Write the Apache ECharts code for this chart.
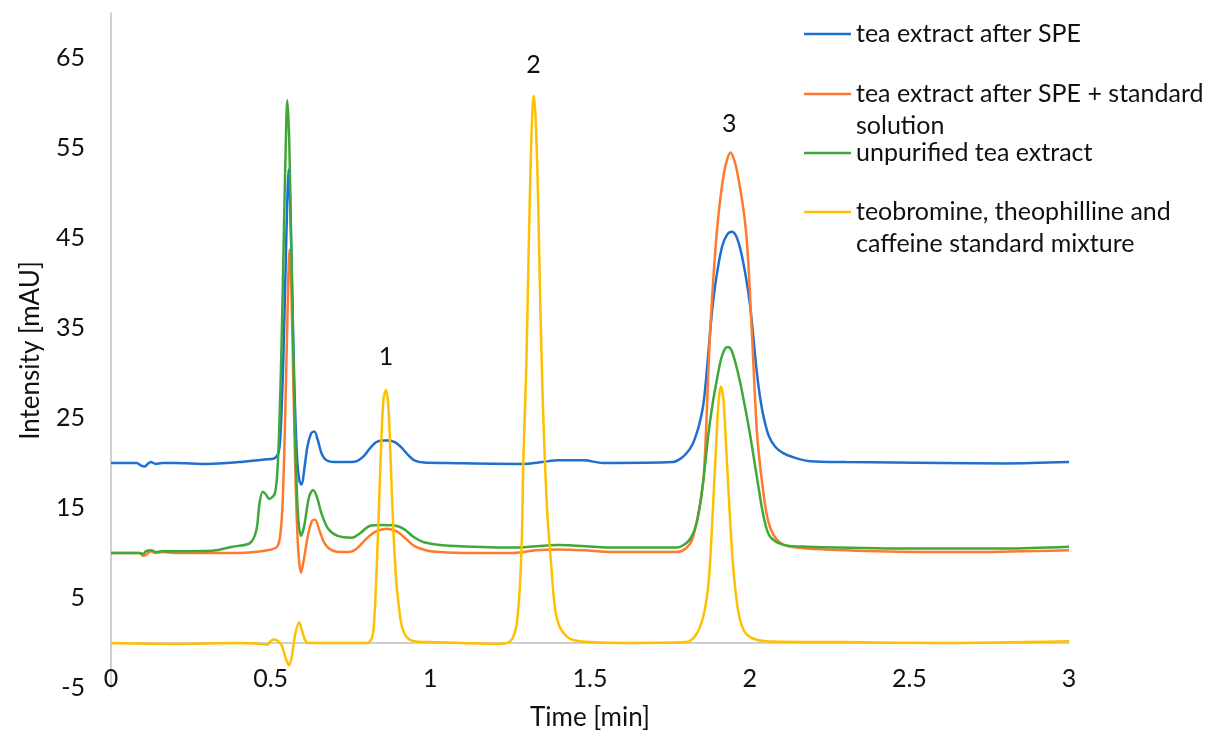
<!DOCTYPE html>
<html>
<head>
<meta charset="utf-8">
<script src="https://cdn.jsdelivr.net/npm/echarts@6/dist/echarts.min.js"></script>
<style>
  html, body { margin: 0; padding: 0; background: #fff; }
  #chart { width: 1208px; height: 734px; }
</style>
</head>
<body>
<div id="chart"></div>
<script>
// series names (legend order)
const seriesNames = [
  'tea extract after SPE',
  'tea extract after SPE + standard solution',
  'unpurified tea extract',
  'teobromine, theophilline and caffeine standard mixture'
];
const seriesColors = ['#1f6fd1', '#ff7a2f', '#3fa83a', '#ffc000'];

// tea extract after SPE
const speT = [0, 0.08, 0.095, 0.105, 0.115, 0.125, 0.14, 0.16, 0.2, 0.3, 0.4, 0.48, 0.51, 0.525, 0.532, 0.54, 0.547, 0.552, 0.556, 0.561, 0.567, 0.574, 0.582, 0.59, 0.597, 0.606, 0.615, 0.627, 0.637, 0.648, 0.66, 0.675, 0.7, 0.75, 0.77, 0.79, 0.81, 0.83, 0.85, 0.87, 0.89, 0.91, 0.93, 0.95, 0.98, 1.05, 1.29, 1.35, 1.4, 1.48, 1.54, 1.76, 1.78, 1.80, 1.82, 1.84, 1.855, 1.867, 1.876, 1.886, 1.9, 1.915, 1.93, 1.944, 1.958, 1.972, 1.987, 2.001, 2.012, 2.022, 2.033, 2.045, 2.06, 2.08, 2.105, 2.14, 2.19, 2.3, 2.6, 2.8, 3.0];
const speV = [20.0, 20.0, 19.7, 19.6, 19.9, 20.1, 19.9, 20.0, 20.0, 19.9, 20.1, 20.4, 20.5, 21.2, 24, 32, 42, 49, 52.6, 49, 40, 29, 21, 18, 17.6, 19.5, 21.8, 23.3, 23.5, 22.5, 21, 20.3, 20.1, 20.1, 20.2, 20.7, 21.6, 22.3, 22.5, 22.5, 22.3, 21.7, 20.9, 20.3, 20.05, 20.0, 19.9, 20.1, 20.3, 20.3, 20.0, 20.1, 20.4, 21.0, 22.0, 24.0, 26.5, 30.7, 34.5, 38.1, 41.6, 44.2, 45.4, 45.7, 45.2, 43.6, 40.9, 37.6, 33.8, 30.2, 27.2, 24.9, 23.0, 21.8, 21.1, 20.6, 20.2, 20.1, 20.0, 19.95, 20.1];

// tea extract after SPE + standard solution
const spikedT = [0, 0.09, 0.1, 0.11, 0.125, 0.14, 0.16, 0.2, 0.4, 0.49, 0.52, 0.53, 0.538, 0.546, 0.553, 0.559, 0.565, 0.571, 0.578, 0.586, 0.595, 0.605, 0.617, 0.63, 0.639, 0.652, 0.67, 0.7, 0.742, 0.77, 0.8, 0.83, 0.864, 0.895, 0.92, 0.945, 0.968, 1.0, 1.1, 1.26, 1.33, 1.4, 1.48, 1.57, 1.77, 1.8, 1.82, 1.84, 1.855, 1.863, 1.876, 1.897, 1.92, 1.94, 1.96, 1.989, 2.007, 2.023, 2.038, 2.055, 2.075, 2.107, 2.18, 2.4, 2.7, 3.0];
const spikedV = [10.0, 10.0, 9.7, 9.8, 10.2, 10.0, 10.1, 10.0, 10.0, 10.3, 10.7, 12, 16, 26, 37, 43.7, 39, 29, 18, 10.5, 7.8, 9.5, 12.0, 13.6, 13.7, 12.6, 11.0, 10.2, 10.1, 10.5, 11.6, 12.4, 12.7, 12.4, 11.7, 10.9, 10.5, 10.2, 10.0, 10.0, 10.3, 10.4, 10.3, 10.1, 10.1, 10.5, 11.5, 14.5, 18.1, 23.3, 34.4, 45.6, 52.3, 54.5, 52.5, 45.6, 34.4, 23.3, 18.1, 14.0, 12.0, 10.9, 10.5, 10.2, 10.1, 10.3];

// unpurified tea extract
const rawT = [0, 0.09, 0.1, 0.11, 0.125, 0.14, 0.16, 0.25, 0.33, 0.38, 0.435, 0.455, 0.465, 0.475, 0.485, 0.495, 0.505, 0.513, 0.52, 0.527, 0.534, 0.541, 0.547, 0.552, 0.558, 0.564, 0.571, 0.578, 0.586, 0.595, 0.605, 0.62, 0.633, 0.645, 0.66, 0.68, 0.71, 0.754, 0.78, 0.81, 0.85, 0.895, 0.92, 0.947, 0.98, 1.06, 1.265, 1.4, 1.57, 1.77, 1.81, 1.835, 1.855, 1.871, 1.885, 1.897, 1.91, 1.921, 1.931, 1.942, 1.955, 1.97, 1.985, 2.0, 2.012, 2.024, 2.045, 2.064, 2.107, 2.18, 2.5, 2.8, 3.0];
const rawV = [10.0, 10.0, 9.9, 10.2, 10.3, 10.1, 10.2, 10.2, 10.3, 10.7, 11.1, 12.5, 15.5, 16.8, 16.5, 16.0, 16.2, 16.6, 18.5, 24, 33, 45, 55, 60.3, 56, 45, 32, 21, 14, 11.9, 13.0, 16.2, 17.0, 16.2, 14.3, 12.7, 11.9, 11.7, 12.2, 13.0, 13.1, 13.0, 12.6, 11.8, 11.2, 10.8, 10.6, 10.9, 10.6, 10.6, 11.4, 13.5, 18.1, 23.3, 26.8, 29.2, 31.5, 32.6, 32.9, 32.6, 31.2, 29.0, 26.3, 23.4, 20.8, 18.1, 13.8, 11.8, 10.9, 10.7, 10.5, 10.5, 10.7];

// teobromine, theophilline and caffeine standard mixture
const stdT = [0, 0.2, 0.4, 0.47, 0.49, 0.5, 0.508, 0.52, 0.535, 0.548, 0.558, 0.567, 0.577, 0.589, 0.598, 0.607, 0.617, 0.7, 0.8, 0.815, 0.822, 0.828, 0.836, 0.845, 0.853, 0.861, 0.869, 0.877, 0.885, 0.893, 0.9, 0.91, 0.925, 0.95, 1.0, 1.1, 1.2, 1.24, 1.255, 1.265, 1.272, 1.28, 1.287, 1.291, 1.3, 1.307, 1.314, 1.32, 1.324, 1.33, 1.337, 1.344, 1.352, 1.359, 1.367, 1.375, 1.383, 1.392, 1.405, 1.425, 1.45, 1.5, 1.6, 1.8, 1.83, 1.855, 1.872, 1.885, 1.895, 1.903, 1.91, 1.918, 1.926, 1.935, 1.945, 1.955, 1.967, 1.985, 2.01, 2.05, 2.3, 2.6, 3.0];
const stdV = [0.0, -0.1, 0.0, -0.1, -0.2, 0.2, 0.4, 0.3, -0.3, -1.8, -2.5, -1.3, 1.0, 2.3, 1.4, 0.4, 0.0, 0.0, 0.0, 0.4, 1.5, 5, 12, 21, 27, 28.1, 26, 19, 12, 7, 4.5, 2, 0.7, 0.2, 0.1, 0.0, -0.1, 0.0, 0.4, 1.2, 2.5, 6, 12, 20, 30, 42, 53, 59.5, 60.8, 58, 50, 38, 27, 20, 14, 10.3, 6.5, 3.5, 1.8, 0.8, 0.3, 0.1, 0.0, 0.1, 0.8, 3, 7, 15, 22, 27, 28.5, 27, 22, 16, 10, 6, 3, 1.2, 0.5, 0.2, 0.1, 0.0, 0.2];

// peak numbers: [time, intensity, label]
const peakLabels = [
  [0.861, 31.8, '1'],
  [1.323, 64.2, '2'],
  [1.936, 57.7, '3']
];

const zip = (xs, ys) => xs.map((x, i) => [x, ys[i]]);
const seriesData = [zip(speT, speV), zip(spikedT, spikedV), zip(rawT, rawV), zip(stdT, stdV)];

const FONT = 'Lato, "Open Sans", sans-serif';
const TXT = '#111';

// leading empty line keeps the first text line level with the legend icon
const legendBreaks = {
  'tea extract after SPE + standard solution': '\ntea extract after SPE + standard\nsolution',
  'teobromine, theophilline and caffeine standard mixture': '\nteobromine, theophilline and\ncaffeine standard mixture'
};
// icon centres at 34, 94, 153, 212
const legendTops = [18, 46, 137, 164];

const chart = echarts.init(document.getElementById('chart'));

chart.setOption({
  backgroundColor: '#fff',
  animation: false,
  grid: { left: 111, right: 139, top: 13, bottom: 46, outerBoundsMode: 'none', containLabel: false },
  legend: seriesNames.map((name, i) => ({
    data: [name],
    left: 804,
    top: legendTops[i],
    padding: 0,
    icon: 'rect',
    itemWidth: 47,
    itemHeight: 2.5,
    selectedMode: false,
    formatter: n => legendBreaks[n] || n,
    textStyle: { fontFamily: FONT, fontSize: 25, color: TXT, lineHeight: 32 }
  })),
  xAxis: {
    type: 'value',
    min: 0,
    max: 3,
    interval: 0.5,
    name: 'Time [min]',
    nameLocation: 'middle',
    nameGap: 17,
    nameTextStyle: { fontFamily: FONT, fontSize: 26, color: TXT },
    axisLine: { onZero: true, lineStyle: { color: '#c0c0c0', width: 1.5 } },
    axisTick: { show: false },
    splitLine: { show: false },
    axisLabel: { fontFamily: FONT, fontSize: 25, color: TXT, margin: -22 }
  },
  yAxis: {
    type: 'value',
    min: -5,
    max: 70,
    interval: 10,
    name: 'Intensity [mAU]',
    nameLocation: 'middle',
    nameGap: 67,
    nameTextStyle: { fontFamily: FONT, fontSize: 26, color: TXT },
    axisLine: { show: true, onZero: true, lineStyle: { color: '#c0c0c0', width: 1.5 } },
    axisTick: { show: false },
    splitLine: { show: false },
    axisLabel: { fontFamily: FONT, fontSize: 25, color: TXT, margin: 26, showMaxLabel: false }
  },
  series: seriesNames.map((name, i) => ({
    name: name,
    type: 'line',
    data: seriesData[i],
    symbol: 'none',
    smooth: 0.3,
    color: seriesColors[i],
    lineStyle: { width: 2.5, color: seriesColors[i] },
    z: 2 + i,
    markPoint: i === 3 ? {
      silent: true,
      symbolSize: 0,
      label: {
        show: true,
        position: 'inside',
        fontFamily: FONT,
        fontSize: 25,
        color: TXT,
        formatter: p => p.data.value
      },
      data: peakLabels.map(p => ({ coord: [p[0], p[1]], value: p[2] }))
    } : undefined
  }))
});
</script>
</body>
</html>
